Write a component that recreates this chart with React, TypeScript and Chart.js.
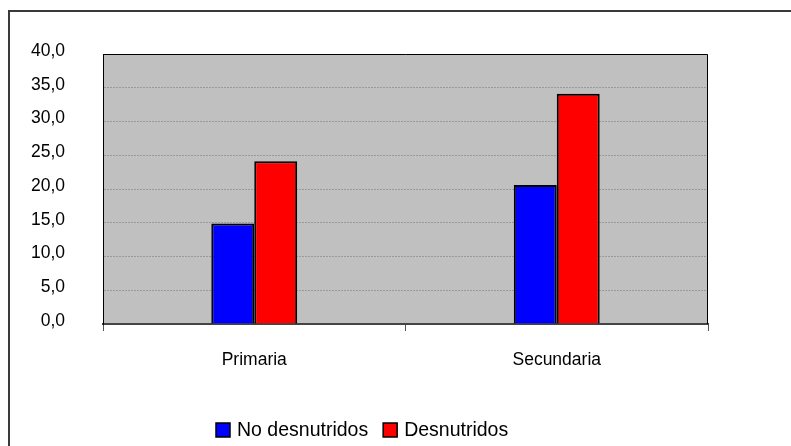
import React, { useEffect, useRef } from "react";
import { Chart, registerables } from "chart.js";

Chart.register(...registerables);

const categories = ["Primaria", "Secundaria"];
const noDesnutridos = [14.9, 20.6];
const desnutridos = [24.1, 34.1];
const seriesNames = ["No desnutridos", "Desnutridos"];
const seriesColors = ["#0000FF", "#FF0000"];
const yMin = 0;
const yMax = 40;
const yStep = 5;

const FONT = "'Liberation Sans', Arial, sans-serif";

const plotBgPlugin = {
  id: "plotBg",
  beforeDraw(chart: any) {
    const { ctx, chartArea } = chart;
    ctx.save();
    ctx.fillStyle = "#C0C0C0";
    ctx.fillRect(chartArea.left, chartArea.top, chartArea.right - chartArea.left, chartArea.bottom - chartArea.top);
    ctx.restore();
  },
  afterDraw(chart: any) {
    const { ctx, chartArea } = chart;
    ctx.save();
    ctx.strokeStyle = "#000";
    ctx.lineWidth = 1;
    ctx.setLineDash([]);
    ctx.beginPath();
    ctx.moveTo(chartArea.left + 0.5, chartArea.bottom);
    ctx.lineTo(chartArea.left + 0.5, chartArea.top + 0.5);
    ctx.lineTo(chartArea.right - 0.5, chartArea.top + 0.5);
    ctx.lineTo(chartArea.right - 0.5, chartArea.bottom);
    ctx.stroke();

    // legend
    ctx.font = `19.5px ${FONT}`;
    ctx.textBaseline = "middle";
    ctx.textAlign = "left";
    let x = 216;
    const cy = 430;
    const box = 14;
    chart.data.datasets.forEach((ds: any) => {
      ctx.fillStyle = ds.backgroundColor;
      ctx.fillRect(x, cy - box / 2, box, box);
      ctx.strokeStyle = "#000";
      ctx.lineWidth = 1.5;
      ctx.strokeRect(x, cy - box / 2, box, box);
      ctx.fillStyle = "#000";
      ctx.fillText(ds.label, x + 21, cy + 1);
      x += 21 + ctx.measureText(ds.label).width + 15;
    });
    ctx.restore();
  },
};

export default function App() {
  const ref = useRef<HTMLCanvasElement>(null);
  useEffect(() => {
    document.body.style.margin = "0";
    const chart = new Chart(ref.current as HTMLCanvasElement, {
      type: "bar",
      data: {
        labels: categories,
        datasets: [
          {
            label: seriesNames[0],
            data: noDesnutridos,
            backgroundColor: seriesColors[0],
            borderColor: "#000",
            borderWidth: 2,
            categoryPercentage: 0.284,
            barPercentage: 1,
          },
          {
            label: seriesNames[1],
            data: desnutridos,
            backgroundColor: seriesColors[1],
            borderColor: "#000",
            borderWidth: 2,
            categoryPercentage: 0.284,
            barPercentage: 1,
          },
        ],
      },
      options: {
        responsive: false,
        animation: false,
        layout: { padding: { left: 0, right: 83, top: 54, bottom: 0 } },
        plugins: { legend: { display: false }, tooltip: { enabled: false } },
        scales: {
          x: {
            afterFit(scale: any) {
              scale.height = 122;
            },
            grid: {
              offset: true,
              drawOnChartArea: false,
              drawTicks: true,
              tickLength: 7,
              color: "#555",
            },
            border: { display: true, color: "#444", width: 2 },
            ticks: {
              padding: 19,
              color: "#000",
              font: { family: FONT, size: 17.5 },
            },
          },
          y: {
            min: yMin,
            max: yMax,
            afterFit(scale: any) {
              scale.width = 103;
            },
            grid: {
              color: "#999",
              drawTicks: false,
            },
            border: { display: true, color: "#000", width: 1, dash: [2, 1] },
            ticks: {
              stepSize: yStep,
              padding: 38,
              labelOffset: -3,
              color: "#000",
              font: { family: FONT, size: 17.5 },
              callback: (v: any) => Number(v).toFixed(1).replace(".", ","),
            },
          },
        },
      },
      plugins: [plotBgPlugin],
    });
    return () => chart.destroy();
  }, []);

  return (
    <div style={{ position: "relative", width: 791, height: 446, overflow: "hidden" }}>
      <div
        style={{
          position: "absolute",
          left: 8,
          top: 10,
          width: 900,
          height: 700,
          border: "2px solid #3a3a3a",
        }}
      />
      <canvas ref={ref} width={791} height={446} style={{ position: "absolute", left: 0, top: 0 }} />
    </div>
  );
}
